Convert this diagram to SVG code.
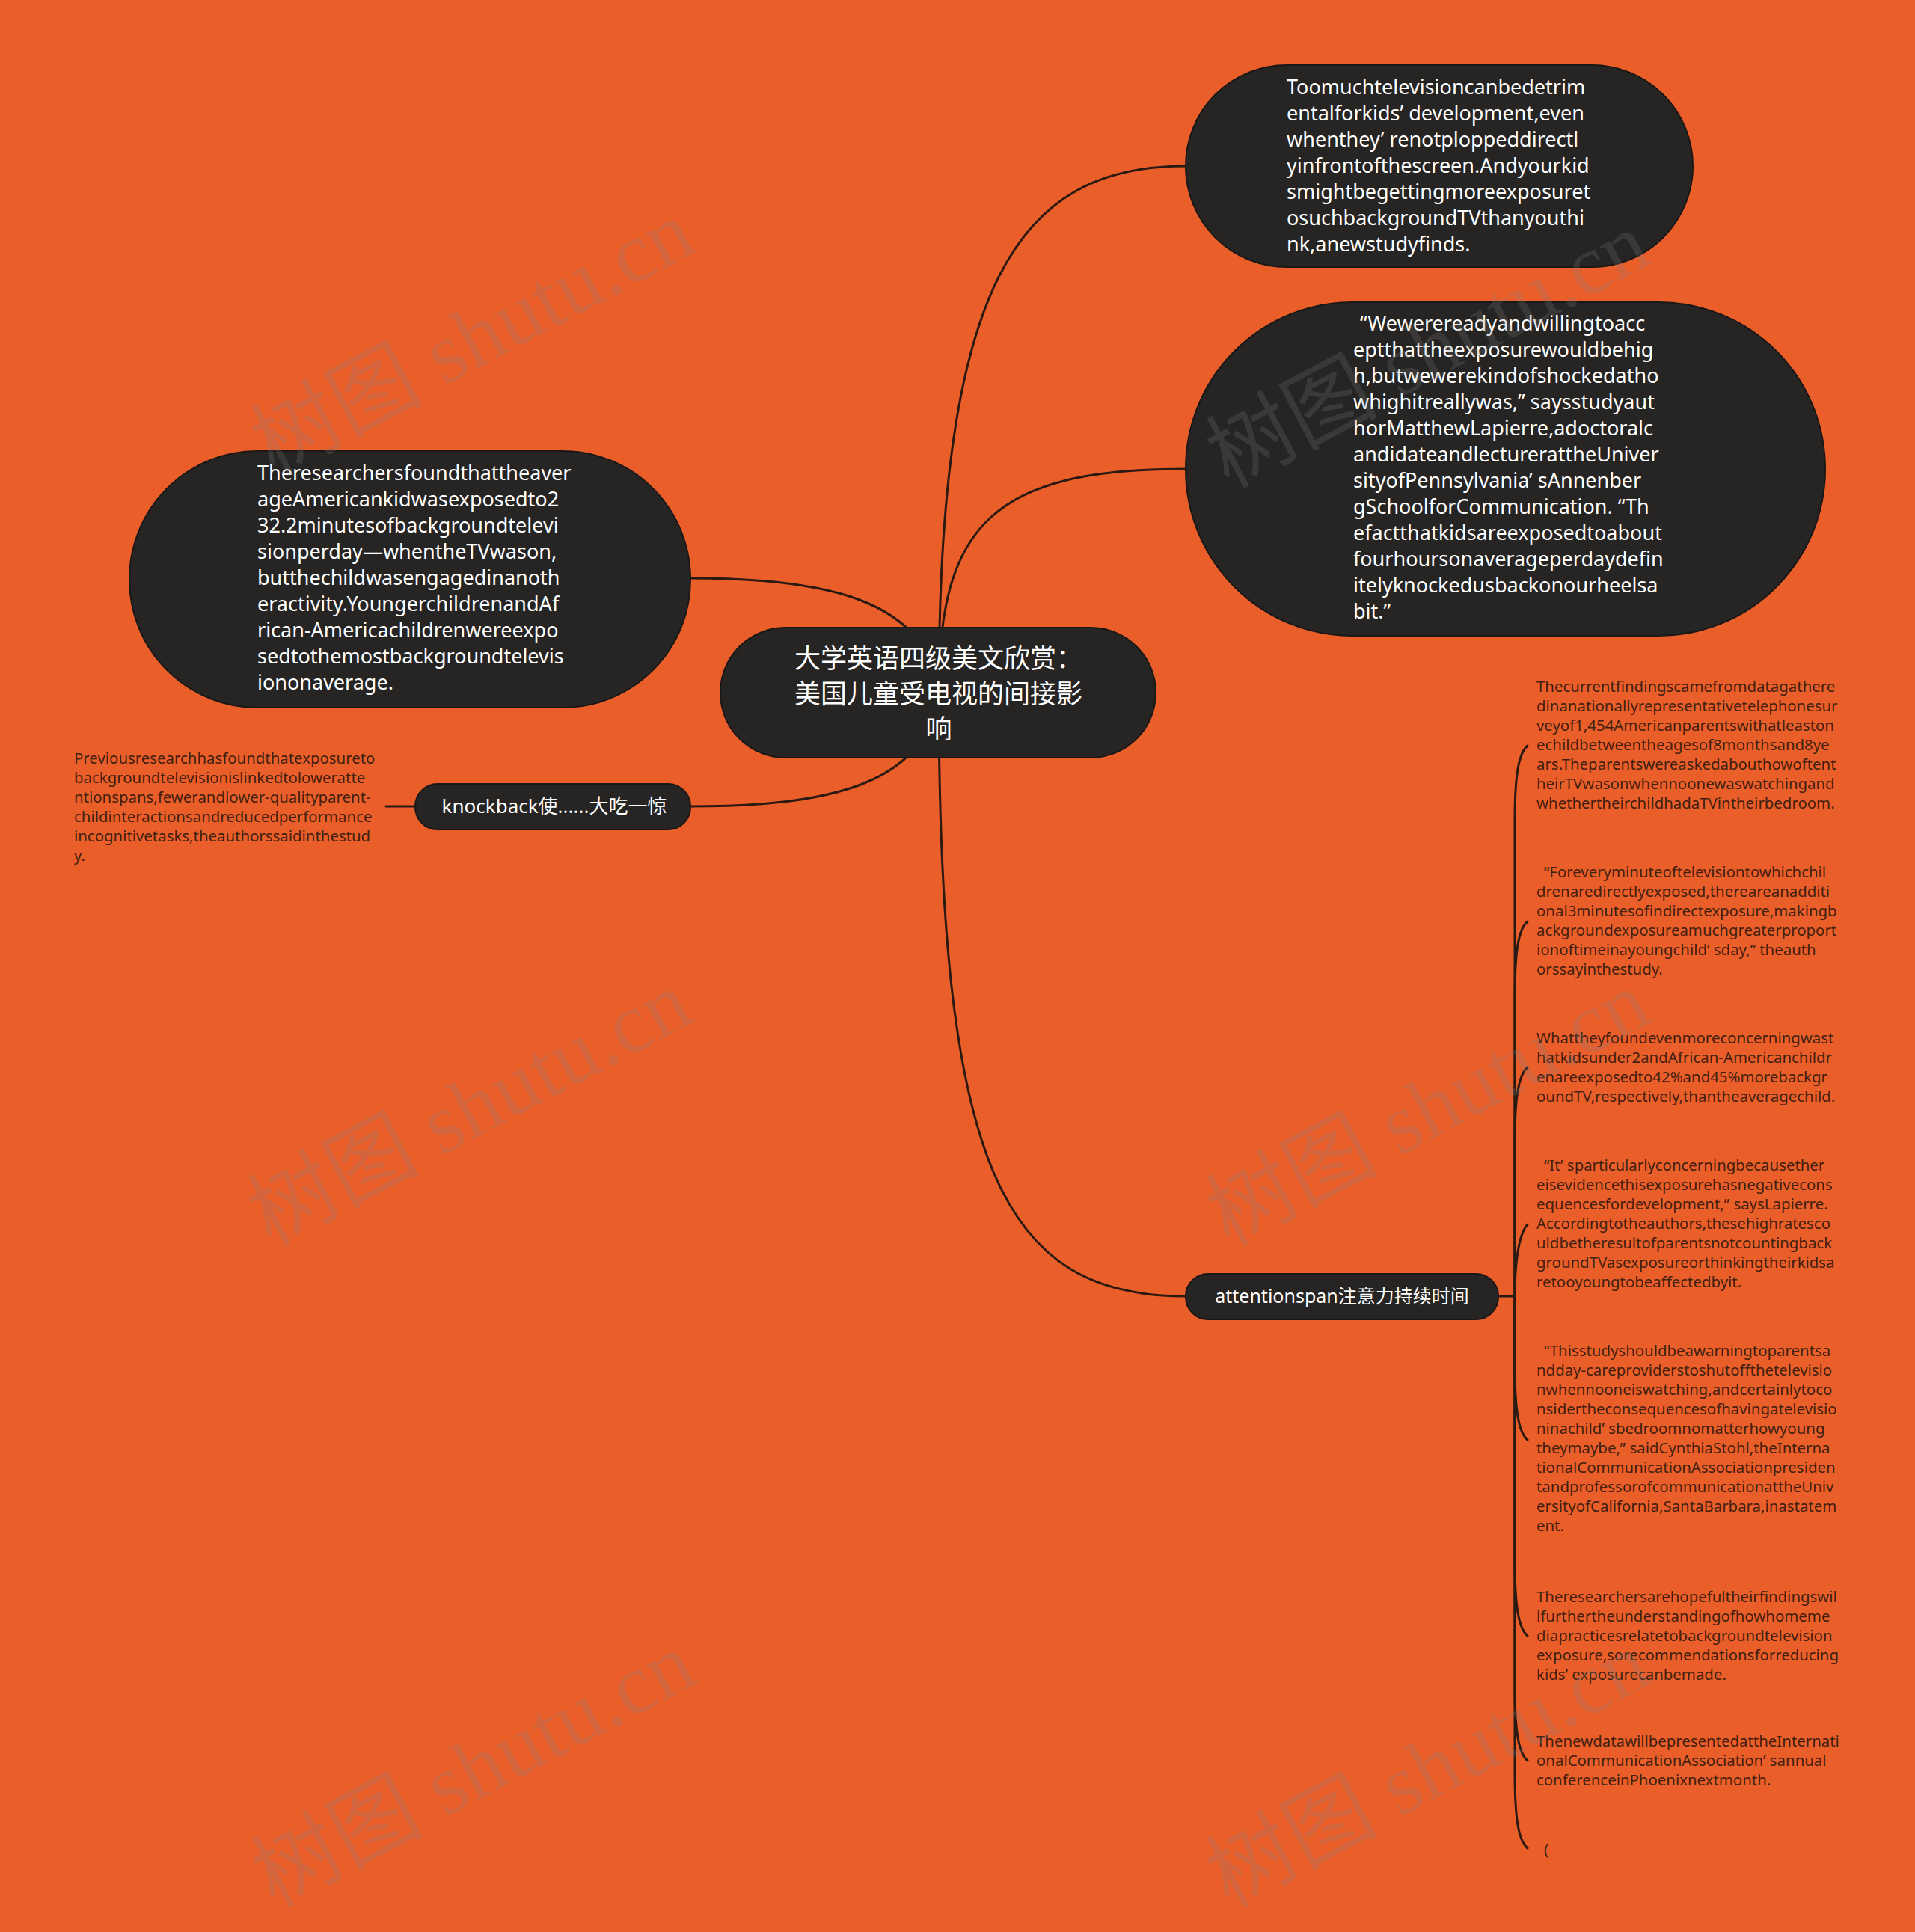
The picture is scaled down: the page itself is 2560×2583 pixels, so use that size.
<svg xmlns="http://www.w3.org/2000/svg" width="2560" height="2583" viewBox="0 0 2560 2583">
<style>
.node{fill:#262523;stroke:#1a1817;stroke-width:2}
.wt{fill:#ffffff;font-family:"Noto Sans","Noto Sans CJK SC",sans-serif;font-size:27px}
.ct{fill:#ffffff;font-family:"Noto Sans CJK SC","Noto Sans",sans-serif;font-size:35px}
.lt{fill:#ffffff;font-family:"Noto Sans","Noto Sans CJK SC",sans-serif;font-size:26px}
.st{fill:#43200f;font-family:"Noto Sans","Noto Sans CJK SC",sans-serif;font-size:20.4px}
.ln{fill:none;stroke:#2a1a12;stroke-width:3;stroke-linecap:round}
.wm{fill:#808080;opacity:0.22;font-family:"Liberation Serif","Noto Sans CJK SC",serif;font-size:115px}
</style>
<rect x="0" y="0" width="2560" height="2583" fill="#EA5E2A"/>

<g id="connectors">
<path class="ln" d="M1255 926 C1255 380 1360 222 1585 222"/>
<path class="ln" d="M1255 926 C1255 700 1330 627 1585 627"/>
<path class="ln" d="M1255 926 C1240 800 1100 773 923 773"/>
<path class="ln" d="M1255 926 C1240 1052 1100 1078 923 1078"/>
<path class="ln" d="M1255 926 C1255 1560 1340 1733 1585 1733"/>
<path class="ln" d="M516 1078 L555 1078"/>
<path class="ln" d="M2003 1733 L2025 1733"/>
<path class="ln" d="M2025 1733 L2025 1097 C2025 1037 2030 1007 2042 997"/>
<path class="ln" d="M2025 1733 L2025 1332 C2025 1272 2030 1242 2042 1232"/>
<path class="ln" d="M2025 1733 L2025 1527 C2025 1467 2030 1437 2042 1427"/>
<path class="ln" d="M2025 1733 C2025 1690 2030 1650 2042 1637"/>
<path class="ln" d="M2025 1733 L2025 1825 C2025 1885 2030 1915 2042 1925"/>
<path class="ln" d="M2025 1733 L2025 2087 C2025 2147 2030 2177 2042 2187"/>
<path class="ln" d="M2025 1733 L2025 2254 C2025 2314 2030 2344 2042 2354"/>
<path class="ln" d="M2025 1733 L2025 2371 C2025 2431 2030 2461 2042 2471"/>
</g>

<g id="root">
<rect class="node" x="963" y="839" width="582" height="174" rx="87"/>
<text class="ct" x="1062" y="893">大学英语四级美文欣赏：</text>
<text class="ct" x="1062" y="940">美国儿童受电视的间接影</text>
<text class="ct" x="1255" y="987" text-anchor="middle">响</text>
</g>

<g id="node-a">
<rect class="node" x="1585" y="87" width="678" height="270" rx="135"/>
<text class="wt">
<tspan x="1720" y="126">Toomuchtelevisioncanbedetrim</tspan>
<tspan x="1720" y="161">entalforkids’ development,even</tspan>
<tspan x="1720" y="196">whenthey’ renotploppeddirectl</tspan>
<tspan x="1720" y="231">yinfrontofthescreen.Andyourkid</tspan>
<tspan x="1720" y="266">smightbegettingmoreexposuret</tspan>
<tspan x="1720" y="301">osuchbackgroundTVthanyouthi</tspan>
<tspan x="1720" y="336">nk,anewstudyfinds.</tspan>
</text>
</g>

<g id="node-b">
<rect class="node" x="1585" y="404" width="855" height="446" rx="223"/>
<text class="wt">
<tspan x="1818" y="442">“Wewerereadyandwillingtoacc</tspan>
<tspan x="1809" y="477">eptthattheexposurewouldbehig</tspan>
<tspan x="1809" y="512">h,butwewerekindofshockedatho</tspan>
<tspan x="1809" y="547">whighitreallywas,” saysstudyaut</tspan>
<tspan x="1809" y="582">horMatthewLapierre,adoctoralc</tspan>
<tspan x="1809" y="617">andidateandlecturerattheUniver</tspan>
<tspan x="1809" y="652">sityofPennsylvania’ sAnnenber</tspan>
<tspan x="1809" y="687">gSchoolforCommunication. “Th</tspan>
<tspan x="1809" y="722">efactthatkidsareexposedtoabout</tspan>
<tspan x="1809" y="757">fourhoursonaverageperdaydefin</tspan>
<tspan x="1809" y="792">itelyknockedusbackonourheelsa</tspan>
<tspan x="1809" y="827">bit.”</tspan>
</text>
</g>

<g id="node-c">
<rect class="node" x="173" y="603" width="750" height="343" rx="171"/>
<text class="wt">
<tspan x="344" y="642">Theresearchersfoundthattheaver</tspan>
<tspan x="344" y="677">ageAmericankidwasexposedto2</tspan>
<tspan x="344" y="712">32.2minutesofbackgroundtelevi</tspan>
<tspan x="344" y="747">sionperday—whentheTVwason,</tspan>
<tspan x="344" y="782">butthechildwasengagedinanoth</tspan>
<tspan x="344" y="817">eractivity.YoungerchildrenandAf</tspan>
<tspan x="344" y="852">rican-Americachildrenwereexpo</tspan>
<tspan x="344" y="887">sedtothemostbackgroundtelevis</tspan>
<tspan x="344" y="922">iononaverage.</tspan>
</text>
</g>

<g id="node-d">
<rect class="node" x="555" y="1048" width="368" height="61" rx="30"/>
<text class="lt" x="741" y="1087" text-anchor="middle">knockback使......大吃一惊</text>
</g>

<g id="leaf-previous">
<text class="st">
<tspan x="99" y="1021">Previousresearchhasfoundthatexposureto</tspan>
<tspan x="99" y="1047">backgroundtelevisionislinkedtoloweratte</tspan>
<tspan x="99" y="1073">ntionspans,fewerandlower-qualityparent-</tspan>
<tspan x="99" y="1099">childinteractionsandreducedperformance</tspan>
<tspan x="99" y="1125">incognitivetasks,theauthorssaidinthestud</tspan>
<tspan x="99" y="1151">y.</tspan>
</text>
</g>

<g id="node-e">
<rect class="node" x="1585" y="1703" width="418" height="61" rx="30"/>
<text class="lt" x="1794" y="1742" text-anchor="middle" style="font-size:25px">attentionspan注意力持续时间</text>
</g>

<g id="leaf-1">
<text class="st">
<tspan x="2054" y="925">Thecurrentfindingscamefromdatagathere</tspan>
<tspan x="2054" y="951">dinanationallyrepresentativetelephonesur</tspan>
<tspan x="2054" y="977">veyof1,454Americanparentswithatleaston</tspan>
<tspan x="2054" y="1003">echildbetweentheagesof8monthsand8ye</tspan>
<tspan x="2054" y="1029">ars.Theparentswereaskedabouthowoftent</tspan>
<tspan x="2054" y="1055">heirTVwasonwhennoonewaswatchingand</tspan>
<tspan x="2054" y="1081">whethertheirchildhadaTVintheirbedroom.</tspan>
</text>
</g>

<g id="leaf-2">
<text class="st">
<tspan x="2064" y="1173">“Foreveryminuteoftelevisiontowhichchil</tspan>
<tspan x="2054" y="1199">drenaredirectlyexposed,thereareanadditi</tspan>
<tspan x="2054" y="1225">onal3minutesofindirectexposure,makingb</tspan>
<tspan x="2054" y="1251">ackgroundexposureamuchgreaterproport</tspan>
<tspan x="2054" y="1277">ionoftimeinayoungchild’ sday,” theauth</tspan>
<tspan x="2054" y="1303">orssayinthestudy.</tspan>
</text>
</g>

<g id="leaf-3">
<text class="st">
<tspan x="2054" y="1395">Whattheyfoundevenmoreconcerningwast</tspan>
<tspan x="2054" y="1421">hatkidsunder2andAfrican-Americanchildr</tspan>
<tspan x="2054" y="1447">enareexposedto42%and45%morebackgr</tspan>
<tspan x="2054" y="1473">oundTV,respectively,thantheaveragechild.</tspan>
</text>
</g>

<g id="leaf-4">
<text class="st">
<tspan x="2064" y="1565">“It’ sparticularlyconcerningbecausether</tspan>
<tspan x="2054" y="1591">eisevidencethisexposurehasnegativecons</tspan>
<tspan x="2054" y="1617">equencesfordevelopment,” saysLapierre.</tspan>
<tspan x="2054" y="1643">Accordingtotheauthors,thesehighratesco</tspan>
<tspan x="2054" y="1669">uldbetheresultofparentsnotcountingback</tspan>
<tspan x="2054" y="1695">groundTVasexposureorthinkingtheirkidsa</tspan>
<tspan x="2054" y="1721">retooyoungtobeaffectedbyit.</tspan>
</text>
</g>

<g id="leaf-5">
<text class="st">
<tspan x="2064" y="1813">“Thisstudyshouldbeawarningtoparentsa</tspan>
<tspan x="2054" y="1839">ndday-careproviderstoshutoffthetelevisio</tspan>
<tspan x="2054" y="1865">nwhennooneiswatching,andcertainlytoco</tspan>
<tspan x="2054" y="1891">nsidertheconsequencesofhavingatelevisio</tspan>
<tspan x="2054" y="1917">ninachild’ sbedroomnomatterhowyoung</tspan>
<tspan x="2054" y="1943">theymaybe,” saidCynthiaStohl,theInterna</tspan>
<tspan x="2054" y="1969">tionalCommunicationAssociationpresiden</tspan>
<tspan x="2054" y="1995">tandprofessorofcommunicationattheUniv</tspan>
<tspan x="2054" y="2021">ersityofCalifornia,SantaBarbara,inastatem</tspan>
<tspan x="2054" y="2047">ent.</tspan>
</text>
</g>

<g id="leaf-6">
<text class="st">
<tspan x="2054" y="2142">Theresearchersarehopefultheirfindingswil</tspan>
<tspan x="2054" y="2168">lfurthertheunderstandingofhowhomeme</tspan>
<tspan x="2054" y="2194">diapracticesrelatetobackgroundtelevision</tspan>
<tspan x="2054" y="2220">exposure,sorecommendationsforreducing</tspan>
<tspan x="2054" y="2246">kids’ exposurecanbemade.</tspan>
</text>
</g>

<g id="leaf-7">
<text class="st">
<tspan x="2054" y="2335">ThenewdatawillbepresentedattheInternati</tspan>
<tspan x="2054" y="2361">onalCommunicationAssociation’ sannual</tspan>
<tspan x="2054" y="2387">conferenceinPhoenixnextmonth.</tspan>
</text>
</g>

<g id="leaf-8">
<text class="st" x="2064" y="2480">(</text>
</g>

<g id="watermarks">
<text class="wm" x="650" y="486" text-anchor="middle" transform="rotate(-28 650 486)">树图 shutu.cn</text>
<text class="wm" x="646" y="1516" text-anchor="middle" transform="rotate(-28 646 1516)">树图 shutu.cn</text>
<text class="wm" x="651" y="2400" text-anchor="middle" transform="rotate(-28 651 2400)">树图 shutu.cn</text>
<text class="wm" x="1927" y="502" text-anchor="middle" transform="rotate(-28 1927 502)">树图 shutu.cn</text>
<text class="wm" x="1927" y="1516" text-anchor="middle" transform="rotate(-28 1927 1516)">树图 shutu.cn</text>
<text class="wm" x="1927" y="2400" text-anchor="middle" transform="rotate(-28 1927 2400)">树图 shutu.cn</text>
</g>
</svg>
